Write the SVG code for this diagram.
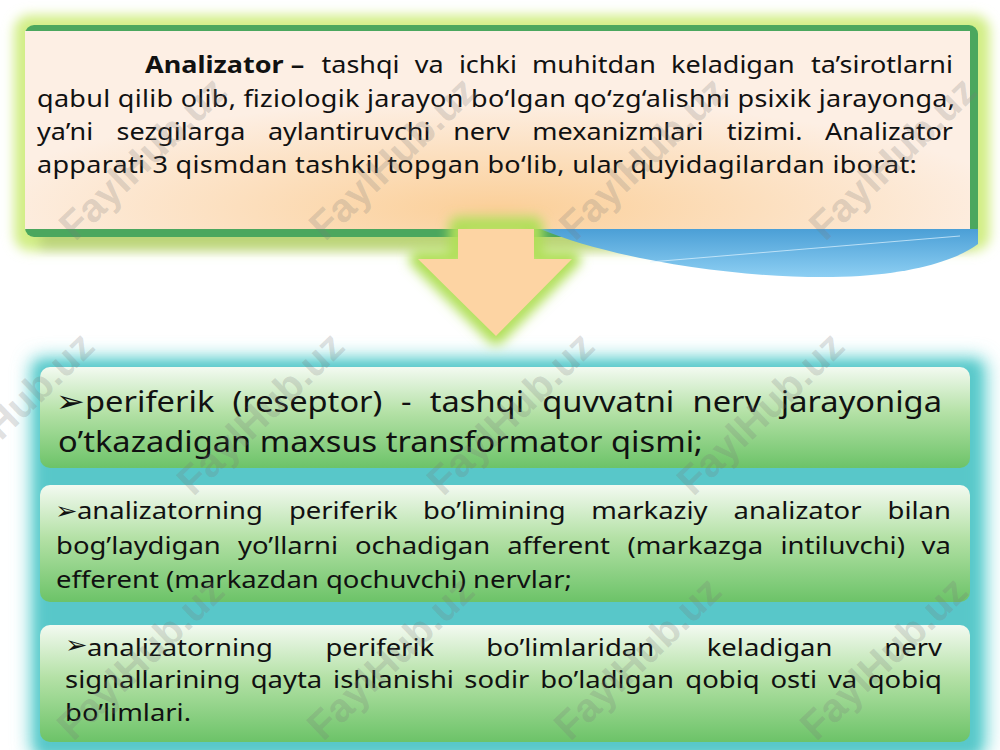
<svg xmlns="http://www.w3.org/2000/svg" width="1000" height="750" viewBox="0 0 1000 750">
<defs>
<style>
.t{font-family:"Noto Sans","Open Sans","DejaVu Sans",sans-serif;fill:#111;}
.top{font-size:24px;}
.b1{font-size:29px;}
.b2{font-size:24.4px;}
.bold{font-weight:bold;}
.bul{font-family:"DejaVu Sans",sans-serif;}
.end{text-anchor:end;}
.wm{font-family:"Liberation Sans",Arial,sans-serif;font-weight:bold;font-size:40px;fill:#7a7a7a;fill-opacity:0.24;text-anchor:middle;}
.card{fill:url(#green);}
</style>
<radialGradient id="peach" cx="0.5" cy="0.9" r="0.55">
<stop offset="0" stop-color="#fbcf98"/>
<stop offset="1" stop-color="#fdefe4"/>
</radialGradient>
<linearGradient id="green" x1="0" y1="0" x2="0" y2="1">
<stop offset="0" stop-color="#f3faf1"/>
<stop offset="0.45" stop-color="#b4e1a6"/>
<stop offset="1" stop-color="#6cc368"/>
</linearGradient>
<linearGradient id="blue" x1="0" y1="0" x2="0" y2="1">
<stop offset="0" stop-color="#4b9fd6"/>
<stop offset="1" stop-color="#8dcff3"/>
</linearGradient>
<filter id="blur6" x="-20%" y="-20%" width="140%" height="140%"><feGaussianBlur stdDeviation="6"/></filter>
<filter id="blur9" x="-20%" y="-20%" width="140%" height="140%"><feGaussianBlur stdDeviation="9"/></filter>
</defs>
<rect x="0" y="0" width="1000" height="750" fill="#ffffff"/>

<g id="top-box">
<rect x="14" y="15" width="976" height="236" rx="16" fill="#d2ee86" filter="url(#blur6)"/>
<rect x="40" y="225" width="930" height="26" fill="#000" opacity="0.10" filter="url(#blur6)"/>
<rect x="25" y="25" width="953" height="212" rx="9" fill="#4ba75e"/>
<path d="M540,229 C620,262 760,282 860,276 C920,272 960,258 978,244 L978,229 Z" fill="url(#blue)"/>
<path d="M650,262 L960,236" stroke="#dff3ff" stroke-width="1" opacity="0.7" fill="none"/>
<rect x="25" y="31" width="945" height="198" fill="url(#peach)"/>
<g transform="scale(1.125 1)">
<text class="t top" y="73"><tspan class="bold" x="128.9">Analizator –</tspan><tspan x="285.8">tashqi</tspan><tspan x="368.7">va</tspan><tspan x="407.9">ichki</tspan><tspan x="473.0">muhitdan</tspan><tspan x="596.5">keladigan</tspan></text>
<text class="t top end" x="847.1" y="73">ta’sirotlarni</text>
<text class="t top" x="32.9" y="107" textLength="816" lengthAdjust="spacing">qabul qilib olib, fiziologik jarayon bo‘lgan qo‘zg‘alishni psixik jarayonga,</text>
<text class="t top" y="140"><tspan x="32.9">ya’ni</tspan><tspan x="103.6">sezgilarga</tspan><tspan x="238.2">aylantiruvchi</tspan><tspan x="402.8">nerv</tspan><tspan x="473.2">mexanizmlari</tspan><tspan x="645.9">tizimi.</tspan></text>
<text class="t top end" x="847.1" y="140">Analizator</text>
<text class="t top" x="32.9" y="173" textLength="782" lengthAdjust="spacing">apparati 3 qismdan tashkil topgan bo‘lib, ular quyidagilardan iborat:</text>
</g>
</g>

<g id="panel">
<rect x="30" y="357" width="957" height="400" rx="12" fill="#6ad4d4" filter="url(#blur9)"/>
<rect x="38" y="364" width="940" height="390" fill="#58c7c9" filter="url(#blur6)"/>
</g>

<g id="connectors">
<polygon points="458,226 534,226 534,259 572,259 496,336 418,259 458,259" fill="none" stroke="#b0df58" stroke-width="18" stroke-linejoin="round" filter="url(#blur6)"/>
<polygon points="458,229 534,229 534,259 572,259 496,336 418,259 458,259" fill="#fdd4a3"/>
</g>

<g id="box1">
<rect class="card" x="40" y="367" width="930" height="101" rx="10"/>
<g transform="scale(1.125 1)">
<text class="t b1" y="412"><tspan class="bul" x="49.5" dy="0" font-size="31">➢</tspan><tspan x="75.6">periferik</tspan><tspan x="206.7">(reseptor)</tspan><tspan x="356.4">-</tspan><tspan x="382.0">tashqi</tspan><tspan x="482.0">quvvatni</tspan><tspan x="615.6">nerv</tspan></text>
<text class="t b1 end" x="837.3" y="412">jarayoniga</text>
<text class="t b1" x="51.6" y="452">o’tkazadigan maxsus transformator qismi;</text>
</g>
</g>

<g id="box2">
<rect class="card" x="40" y="485" width="930" height="117" rx="10"/>
<g transform="scale(1.125 1)">
<text class="t b2" y="519"><tspan class="bul" x="48.9" font-size="24">➢</tspan><tspan x="68.4">analizatorning</tspan><tspan x="256.8">periferik</tspan><tspan x="376.0">bo’limining</tspan><tspan x="525.5">markaziy</tspan><tspan x="652.0">analizator</tspan></text>
<text class="t b2 end" x="845.3" y="519">bilan</text>
<text class="t b2" y="554"><tspan x="49.8">bog’laydigan</tspan><tspan x="211.6">yo’llarni</tspan><tspan x="315.5">ochadigan</tspan><tspan x="450.8">afferent</tspan><tspan x="557.7">(markazga</tspan><tspan x="693.8">intiluvchi)</tspan></text>
<text class="t b2 end" x="845.3" y="554">va</text>
<text class="t b2" x="49.8" y="588">efferent (markazdan qochuvchi) nervlar;</text>
</g>
</g>

<g id="box3">
<rect class="card" x="40" y="625" width="930" height="117" rx="10"/>
<g transform="scale(1.125 1)">
<text class="t b2" y="656"><tspan class="bul" x="57.8" dy="-3" font-size="24">➢</tspan><tspan x="77.3" dy="3">analizatorning</tspan><tspan x="289.3">periferik</tspan><tspan x="432.2">bo’limlaridan</tspan><tspan x="628.2">keladigan</tspan></text>
<text class="t b2 end" x="837.3" y="656">nerv</text>
<text class="t b2" y="688"><tspan x="57.8">signallarining</tspan><tspan x="222.8">qayta</tspan><tspan x="296.1">ishlanishi</tspan><tspan x="412.7">sodir</tspan><tspan x="480.2">bo’ladigan</tspan><tspan x="609.2">qobiq</tspan><tspan x="684.8">osti</tspan><tspan x="735.9">va</tspan></text>
<text class="t b2 end" x="837.3" y="688">qobiq</text>
<text class="t b2" x="57.8" y="721">bo’limlari.</text>
</g>
</g>

<g id="watermark">
<text class="wm" transform="translate(152 168) rotate(-44)">FaylHub.uz</text>
<text class="wm" transform="translate(402 168) rotate(-44)">FaylHub.uz</text>
<text class="wm" transform="translate(652 168) rotate(-44)">FaylHub.uz</text>
<text class="wm" transform="translate(902 168) rotate(-44)">FaylHub.uz</text>
<text class="wm" transform="translate(20 423) rotate(-44)">FaylHub.uz</text>
<text class="wm" transform="translate(270 423) rotate(-44)">FaylHub.uz</text>
<text class="wm" transform="translate(520 423) rotate(-44)">FaylHub.uz</text>
<text class="wm" transform="translate(770 423) rotate(-44)">FaylHub.uz</text>
<text class="wm" transform="translate(150 668) rotate(-44)">FaylHub.uz</text>
<text class="wm" transform="translate(400 668) rotate(-44)">FaylHub.uz</text>
<text class="wm" transform="translate(647 668) rotate(-44)">FaylHub.uz</text>
<text class="wm" transform="translate(893 668) rotate(-44)">FaylHub.uz</text>
</g>
</svg>
